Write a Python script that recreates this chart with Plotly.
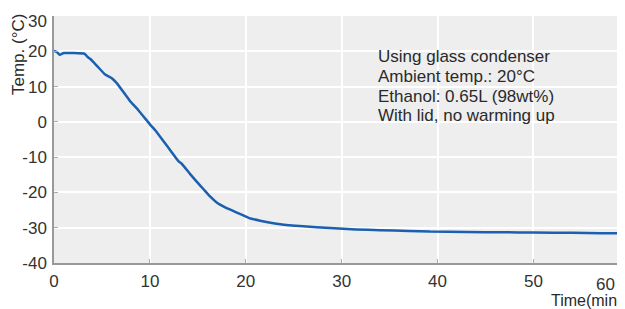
import plotly.graph_objects as go

time_min = [0, 0.3, 0.6, 1.0, 2.0, 3.2, 3.5, 3.8, 4.5, 5.3, 6.0, 6.5, 7.2, 7.9, 8.8, 9.7, 10.0, 10.6, 11.4, 12.2, 13.0, 13.3, 14.2, 15.0, 15.6, 16.3, 17.0, 17.7, 18.4, 19.5, 20.5, 21.5, 23.6, 26.0, 28.8, 31.5, 34.0, 37.0, 39.2, 43.0, 47.0, 50.0, 54.0, 57.0, 59.6]
temp_c = [20.1, 19.8, 19.0, 19.5, 19.5, 19.3, 18.4, 17.8, 15.8, 13.5, 12.4, 11.1, 8.6, 6.0, 3.3, 0.3, -0.7, -2.5, -5.4, -8.3, -11.2, -11.8, -14.8, -17.3, -19.1, -21.2, -22.9, -24.0, -24.9, -26.2, -27.4, -28.0, -29.0, -29.6, -30.1, -30.5, -30.7, -30.9, -31.1, -31.2, -31.3, -31.35, -31.45, -31.55, -31.6]

x_ticks = [0, 10, 20, 30, 40, 50, 60]
y_ticks = [-40, -30, -20, -10, 0, 10, 20, 30]
note_lines = ["Using glass condenser", "Ambient temp.: 20°C", "Ethanol: 0.65L (98wt%)", "With lid, no warming up"]
x_title = "Time(min)"
y_title = "Temp. (°C)"

FONT = "Liberation Sans, Arial"
TXT = "#2a2a2a"
TICK = "#333333"

fig = go.Figure()
fig.add_trace(go.Scatter(x=time_min, y=temp_c, mode="lines",
                         line=dict(color="#1a5fb0", width=2.5, shape="spline", smoothing=0.4),
                         hoverinfo="skip", showlegend=False))

axis_common = dict(showgrid=True, gridcolor="#ffffff", gridwidth=2,
                   showline=True, linecolor="#999999", linewidth=1.5,
                   ticks="inside", ticklen=4, tickcolor="#aaaaaa",
                   tickfont=dict(family=FONT, size=17, color=TICK),
                   ticklabelstandoff=2, zeroline=False)

# top y label is drawn separately (nudged down, as in the original)
y_ticktext = [str(v) for v in y_ticks[:-1]] + [""]

fig.update_xaxes(range=[0, 59.55], tickvals=x_ticks, **axis_common)
fig.update_yaxes(range=[-40, 30], tickvals=y_ticks, ticktext=y_ticktext, **axis_common)

note_shifts = [-40.3, -60, -80, -99.7]
for line, ys in zip(note_lines, note_shifts):
    fig.add_annotation(x=0, y=1, xref="paper", yref="paper", xanchor="left", yanchor="middle",
                       xshift=322, yshift=ys, text=line, showarrow=False,
                       font=dict(family=FONT, size=17, color=TXT))

fig.add_annotation(x=0, y=1, xref="paper", yref="paper", xanchor="right", yanchor="middle",
                   xshift=-5, yshift=-5.5, text=str(y_ticks[-1]), showarrow=False,
                   font=dict(family=FONT, size=17, color=TICK))
# last x tick label sits just inside the right edge, as in the original
fig.add_annotation(x=0, y=0, xref="paper", yref="paper", xanchor="center", yanchor="middle",
                   xshift=551, yshift=-21, text=str(x_ticks[-1]), showarrow=False,
                   font=dict(family=FONT, size=17, color=TICK))
fig.add_annotation(x=0, y=0, xref="paper", yref="paper", xanchor="left", yanchor="middle",
                   xshift=495, yshift=-37, text=x_title, showarrow=False,
                   font=dict(family=FONT, size=16, color=TXT))
fig.add_annotation(x=0, y=1, xref="paper", yref="paper", xanchor="center", yanchor="middle",
                   xshift=-36, yshift=-39, textangle=-90, text=y_title, showarrow=False,
                   font=dict(family=FONT, size=17, color=TXT))

fig.update_layout(width=617, height=301, plot_bgcolor="#eeeeee", paper_bgcolor="#ffffff",
                  margin=dict(l=46, r=0, t=8, b=46, autoexpand=False), showlegend=False)

fig.write_html("out.html", config={"displayModeBar": False})
